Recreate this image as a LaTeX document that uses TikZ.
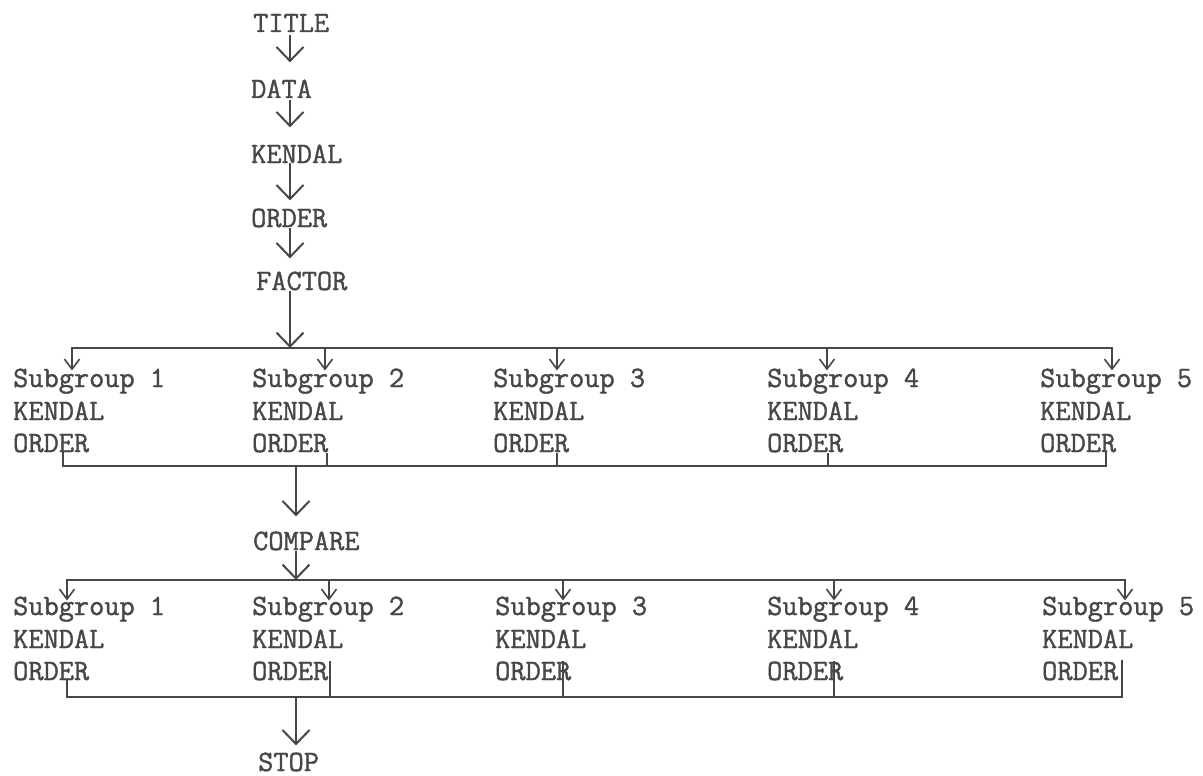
\documentclass[tikz,border=0pt]{standalone}
\usepackage{fontspec}
\newfontfamily\typew{Latin Modern Mono}[FakeBold=1.3]
\usetikzlibrary{arrows.meta}
\definecolor{ink}{HTML}{474747}
\begin{document}
\begin{tikzpicture}[x=1pt,y=-1pt,
  every node/.style={inner sep=0pt, anchor=base west, text=ink,
    font=\typew\fontsize{29.5}{32.5}\selectfont},
  ln/.style={draw=ink, line width=2pt},
  bus/.style={ln, line cap=rect},
  bigarr/.style={ln, -{Straight Barb[length=14pt,width=27pt,line width=2pt]}},
  smallarr/.style={ln, line width=1.8pt, -{Straight Barb[length=10pt,width=15pt,line width=1.6pt]}},
]
\useasboundingbox (0,0) rectangle (1203,776);
\fill[white] (0,0) rectangle (1203,776);

% main column
\node (title) at (253,32) {TITLE};
\node (data) at (251,98) {DATA};
\node (kendal) at (251,163) {KENDAL};
\node (order) at (251,227) {ORDER};
\node (factor) at (256,290) {FACTOR};
\node (compare) at (253,550) {COMPARE};
\node (stop) at (258,771) {STOP};

\coordinate (sp) at (290,0);
\coordinate (sq) at (296,0);

\draw[bigarr, shorten <=3pt, shorten >=17pt] (title.south -| sp) -- (data.north -| sp);
\draw[bigarr, shorten <=2pt, shorten >=17pt] (data.south -| sp) -- (kendal.north -| sp);
\draw[bigarr, shorten >=8pt] (kendal.south -| sp) -- (order.north -| sp);
\draw[bigarr, shorten >=13pt] (order.south -| sp) -- (factor.north -| sp);

% first subgroup row
\foreach \x [count=\i] in {13,252,493,767,1040} {
  \node (r1s\i) at (\x,387) {Subgroup \i};
  \node (r1k\i) at (\x,420) {KENDAL};
  \node (r1o\i) at (\x,452) {ORDER};
}
\foreach \x [count=\i] in {72,325,557,827,1112}
  \coordinate (a\i) at (\x,348);
\foreach \x [count=\i] in {63,327,557,828,1106}
  \coordinate (b\i) at (\x,466);

\draw[bigarr] (factor.south -| sp) -- (sp |- a1);
\draw[bus] (a1) -- (a5);
\foreach \i in {1,...,5}
  \draw[smallarr, shorten >=-2pt] (a\i) -- (a\i |- r1s\i.north);
\draw[bus] (b1 |- r1o1.south) -- (b1) -- (b5) -- (b5 |- r1o5.south);
\foreach \i in {2,3,4}
  \draw[ln] (b\i |- r1o\i.south) -- (b\i);

% compare
\draw[bigarr, shorten >=15pt] (sq |- b1) -- (compare.north -| sq);

% second subgroup row
\foreach \x [count=\i] in {13,252,495,767,1042} {
  \node (r2s\i) at (\x,615) {Subgroup \i};
  \node (r2k\i) at (\x,648) {KENDAL};
  \node (r2o\i) at (\x,680) {ORDER};
}
\foreach \x [count=\i] in {67,329,563,834,1125}
  \coordinate (c\i) at (\x,580);
\foreach \x [count=\i] in {67,330,563,834,1122}
  \coordinate (d\i) at (\x,697);

\draw[bigarr] (compare.south -| sq) -- (sq |- c1);
\draw[bus] (c1) -- (c5);
\foreach \i in {1,...,5}
  \draw[smallarr, shorten >=-4pt] (c\i) -- (c\i |- r2s\i.north);
\draw[bus] (d1 |- r2o1.south) -- (d1) -- (d5) -- (d5 |- r2o5.north);
\foreach \i in {2,3,4}
  \draw[ln] (d\i |- r2o\i.north) -- (d\i);

% stop
\draw[bigarr, shorten >=7pt] (sq |- d1) -- (stop.north -| sq);
\end{tikzpicture}
\end{document}
